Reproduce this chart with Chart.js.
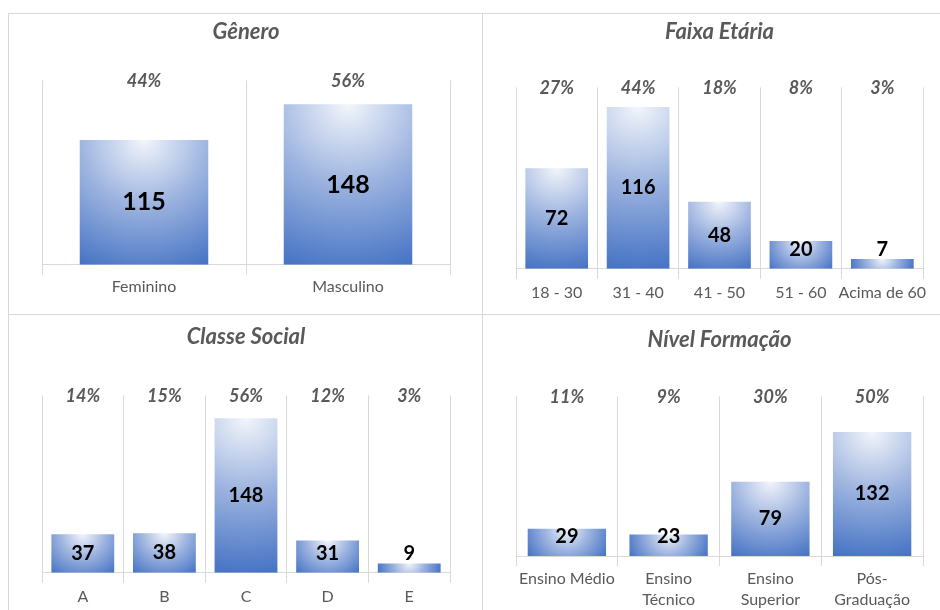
<!DOCTYPE html>
<html>
<head>
<meta charset="utf-8">
<script src="https://cdn.jsdelivr.net/npm/chart.js@4.4.0/dist/chart.umd.min.js"></script>
<style>
  body { margin: 0; background: #fff; }
  #page { position: relative; width: 940px; height: 610px; overflow: hidden; }
  .panel { position: absolute; }
  .line { position: absolute; background: #d9d9d9; }
</style>
</head>
<body>
<div id="page">
  <div class="line" style="left:8px;top:13px;width:932px;height:1px"></div>
  <div class="line" style="left:8px;top:314px;width:932px;height:1px"></div>
  <div class="line" style="left:8px;top:13px;width:1px;height:597px"></div>
  <div class="line" style="left:482px;top:13px;width:1px;height:597px"></div>

  <div class="panel" style="left:8px;top:13px"><canvas id="genero" width="474" height="301"></canvas></div>
  <div class="panel" style="left:482px;top:13px"><canvas id="faixa" width="458" height="301"></canvas></div>
  <div class="panel" style="left:8px;top:314px"><canvas id="classe" width="474" height="306"></canvas></div>
  <div class="panel" style="left:482px;top:314px"><canvas id="nivel" width="458" height="306"></canvas></div>
</div>

<script>
// dados
const generoLabels = ['Feminino', 'Masculino'];
const generoValues = [115, 148];
const generoPct = ['44%', '56%'];

const faixaLabels = ['18 - 30', '31 - 40', '41 - 50', '51 - 60', 'Acima de 60'];
const faixaValues = [72, 116, 48, 20, 7];
const faixaPct = ['27%', '44%', '18%', '8%', '3%'];

const classeLabels = ['A', 'B', 'C', 'D', 'E'];
const classeValues = [37, 38, 148, 31, 9];
const classePct = ['14%', '15%', '56%', '12%', '3%'];

const nivelLabels = ['Ensino Médio', ['Ensino', 'Técnico'], ['Ensino', 'Superior'], ['Pós-', 'Graduação']];
const nivelValues = [29, 23, 79, 132];
const nivelPct = ['11%', '9%', '30%', '50%'];

const FONT = 'Lato, "Open Sans", sans-serif';
const GRAY = '#595959';
const GRID = '#d9d9d9';

// gradiente radial a partir do topo de cada barra
function barFill(c) {
    const chart = c.chart;
    const area = chart.chartArea;
    if (!area || c.dataIndex === undefined) return '#4472c4';
    const xs = chart.scales.x, ys = chart.scales.y;
    const n = chart.data.labels.length;
    const w = (area.right - area.left) / n * chart.options.datasets.bar.barPercentage;
    const cx = xs.getPixelForValue(c.dataIndex);
    const top = ys.getPixelForValue(c.raw);
    const base = ys.getPixelForValue(0);
    const r = Math.max(Math.hypot(w / 2, base - top), 1);
    const g = chart.ctx.createRadialGradient(cx, top, 0, cx, top, r);
    g.addColorStop(0, '#f2f5fb');
    g.addColorStop(0.45, '#9fb5e0');
    g.addColorStop(1, '#4472c4');
    return g;
}

const barLabels = {
    id: 'barLabels',
    afterDatasetsDraw(chart, args, o) {
        const ctx = chart.ctx;
        const meta = chart.getDatasetMeta(0);
        const data = chart.data.datasets[0].data;
        ctx.save();
        ctx.textAlign = 'center';
        ctx.textBaseline = 'middle';
        meta.data.forEach(function (bar, i) {
            ctx.font = 'italic bold 18px ' + FONT;
            ctx.fillStyle = GRAY;
            ctx.fillText(o.pct[i], bar.x, chart.chartArea.top + 1);
            ctx.font = 'bold ' + o.valueSize + 'px ' + FONT;
            ctx.fillStyle = '#000';
            const mid = (bar.y + bar.base) / 2;
            ctx.fillText(data[i], bar.x, Math.min(mid, bar.base - 19));
        });
        ctx.restore();
    }
};

function makeChart(id, title, labels, values, pct, cfg) {
    return new Chart(document.getElementById(id), {
        type: 'bar',
        data: {
            labels: labels,
            datasets: [{ data: values, backgroundColor: barFill, borderWidth: 0 }]
        },
        options: {
            responsive: false,
            devicePixelRatio: 1,
            animation: false,
            layout: { padding: { left: 34, right: cfg.right, top: 0, bottom: cfg.bottom } },
            datasets: { bar: { barPercentage: cfg.barPct, categoryPercentage: 1 } },
            scales: {
                x: {
                    grid: { offset: true, color: GRID, tickLength: 10, tickColor: GRID },
                    border: { color: GRID },
                    ticks: {
                        color: GRAY, padding: cfg.tickPad, maxRotation: 0, autoSkip: false,
                        font: { family: FONT, size: 16, lineHeight: cfg.lh || 1.2 }
                    }
                },
                y: { display: false, min: 0, max: cfg.max }
            },
            plugins: {
                legend: { display: false },
                tooltip: { enabled: false },
                title: {
                    display: true, text: title, color: GRAY,
                    font: { family: FONT, size: 22, style: 'italic', weight: 'bold', lineHeight: 1.2 },
                    padding: { top: cfg.titleTop, bottom: cfg.titleBottom }
                },
                barLabels: { pct: pct, valueSize: cfg.valueSize }
            }
        },
        plugins: [barLabels]
    });
}

makeChart('genero', 'Gênero', generoLabels, generoValues, generoPct,
    { right: 32, bottom: 16, max: 170, barPct: 0.63, tickPad: 2, titleTop: 6, titleBottom: 35, valueSize: 25 });
makeChart('faixa', 'Faixa Etária', faixaLabels, faixaValues, faixaPct,
    { right: 17, bottom: 8, max: 130, barPct: 0.77, tickPad: 4, titleTop: 6, titleBottom: 42, valueSize: 20 });
makeChart('classe', 'Classe Social', classeLabels, classeValues, classePct,
    { right: 32, bottom: 10, max: 170, barPct: 0.77, tickPad: 4, titleTop: 10, titleBottom: 45, valueSize: 20 });
makeChart('nivel', 'Nível Formação', nivelLabels, nivelValues, nivelPct,
    { right: 17, bottom: 8, max: 170, barPct: 0.77, tickPad: 2, titleTop: 13, titleBottom: 43, valueSize: 20, lh: 1.3125 });
</script>
</body>
</html>
